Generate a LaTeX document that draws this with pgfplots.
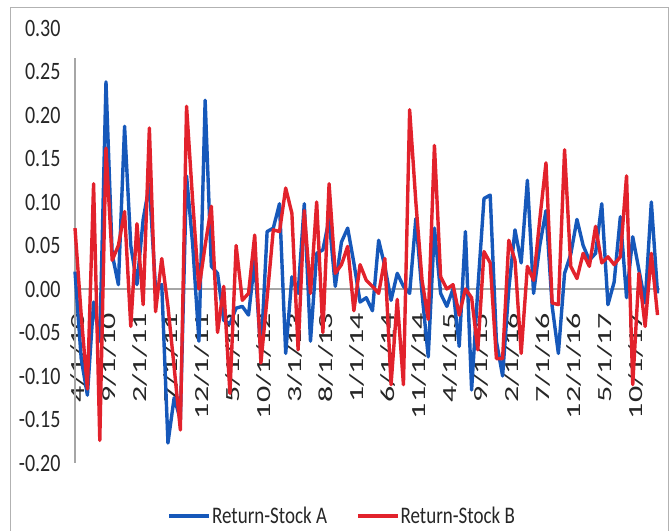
\documentclass[border=0pt]{standalone}
\usepackage{fontspec}
\setmainfont{Carlito}
\usepackage{graphicx}
\usepackage{pgfplots}
\pgfplotsset{compat=1.18}
\usepackage{pgfplotstable}
\definecolor{sA}{RGB}{22,88,186}
\definecolor{sB}{RGB}{226,34,44}
\newcommand{\sx}[1]{\rotatebox{90}{\fontsize{20}{24}\selectfont\scalebox{1.6}[1]{#1}}}
\newcommand{\sy}[1]{\scalebox{1}[1.25]{#1}}

\pgfplotstableread{
i A B
0 0.02 0.07
1 -0.08 -0.03
2 -0.122 -0.115
3 -0.015 0.121
4 -0.06 -0.174
5 0.238 0.162
6 0.04 0.033
7 0.005 0.05
8 0.187 0.089
9 0.05 -0.043
10 0.005 0.075
11 0.08 -0.018
12 0.12 0.185
13 0.0 -0.026
14 0.005 0.035
15 -0.177 -0.02
16 -0.125 -0.09
17 -0.15 -0.162
18 0.13 0.21
19 0.05 0.10
20 -0.06 0.0
21 0.217 0.05
22 0.026 0.095
23 0.018 -0.05
24 -0.036 0.003
25 -0.04 -0.12
26 -0.022 0.05
27 -0.02 -0.013
28 -0.03 -0.005
29 0.033 0.062
30 -0.075 -0.085
31 0.066 -0.01
32 0.07 0.068
33 0.098 0.066
34 -0.074 0.116
35 0.014 0.087
36 -0.005 -0.07
37 0.098 0.09
38 -0.06 -0.005
39 0.041 0.10
40 0.045 -0.05
41 0.08 0.121
42 0.003 0.018
43 0.054 0.028
44 0.07 0.049
45 0.03 -0.025
46 -0.015 0.028
47 -0.01 0.01
48 -0.025 0.003
49 0.056 -0.005
50 0.026 0.035
51 -0.013 -0.11
52 0.018 -0.012
53 0.003 -0.11
54 -0.005 0.206
55 0.081 0.10
56 -0.005 0.01
57 -0.078 -0.035
58 0.07 0.165
59 -0.005 0.014
60 -0.02 0.0
61 0.0 0.005
62 -0.066 -0.03
63 0.066 0.0
64 -0.116 -0.01
65 0.0 -0.07
66 0.104 0.043
67 0.108 0.03
68 -0.06 -0.08
69 -0.1 -0.08
70 0.0 0.056
71 0.068 0.033
72 0.03 -0.074
73 0.125 0.026
74 -0.005 0.01
75 0.05 0.08
76 0.09 0.145
77 -0.02 -0.016
78 -0.074 -0.018
79 0.018 0.16
80 0.04 0.026
81 0.08 0.012
82 0.05 0.041
83 0.033 0.026
84 0.041 0.072
85 0.098 0.03
86 -0.018 0.037
87 0.008 0.028
88 0.083 0.037
89 -0.01 0.13
90 0.06 -0.11
91 0.022 0.018
92 -0.016 -0.043
93 0.1 0.041
94 -0.005 -0.03
}\returns

\begin{document}
\begin{tikzpicture}
\path (0,0) rectangle (672pt,532pt);
\draw[gray!60, line width=0.8pt] (10pt,1pt) -- (10pt,525pt) -- (668pt,525pt) -- (668pt,1pt);
\begin{axis}[
  at={(75pt,69pt)}, anchor=south west,
  scale only axis, width=585pt, height=435pt,
  xmin=0, xmax=94.4, ymin=-0.2, ymax=0.3,
  axis y line*=left, axis x line*=middle,
  hide obscured x ticks=false, hide obscured y ticks=false,
  x axis line style={gray!70, line width=1.2pt},
  y axis line style={draw=none},
  set layers, clip=false,
  tick style={draw=none}, major tick length=0pt,
  ytick={-0.2,-0.15,-0.1,-0.05,0,0.05,0.1,0.15,0.2,0.25,0.3},
  yticklabels={\sy{-0.20},\sy{-0.15},\sy{-0.10},\sy{-0.05},\sy{0.00},\sy{0.05},\sy{0.10},\sy{0.15},\sy{0.20},\sy{0.25},\sy{0.30}},
  xtick={0,5,...,90},
  xticklabels={\sx{4/1/10},\sx{9/1/10},\sx{2/1/11},\sx{7/1/11},\sx{12/1/11},\sx{5/1/12},\sx{10/1/12},\sx{3/1/13},\sx{8/1/13},\sx{1/1/14},\sx{6/1/14},\sx{11/1/14},\sx{4/1/15},\sx{9/1/15},\sx{2/1/16},\sx{7/1/16},\sx{12/1/16},\sx{5/1/17},\sx{10/1/17}},
  yticklabel style={font=\fontsize{20}{24}\selectfont, text=black!85, xshift=-11pt},
  xticklabel style={text=black!85, anchor=north, inner sep=0pt, yshift=-24pt, xshift=3pt},
  legend columns=2,
  legend style={at={(0.456,-0.122)}, anchor=center, draw=none, fill=none,
    font=\fontsize{19}{23}\selectfont, text=black!85,
    /tikz/every even column/.append style={column sep=28pt},
    nodes={inner sep=1pt}},
  legend image code/.code={\draw[#1, line width=3.5pt] (0pt,0pt) -- (40pt,0pt);},
]
\draw[gray!70, line width=1.2pt] (axis cs:0,-0.2) -- (axis cs:0,0.265);
\addplot[sA, line width=3.4pt, line join=round] table[x=i, y=A] {\returns};
\addlegendentry{\sy{Return-Stock A}}
\addplot[sB, line width=3.4pt, line join=round] table[x=i, y=B] {\returns};
\addlegendentry{\sy{Return-Stock B}}
\end{axis}
\end{tikzpicture}
\end{document}
